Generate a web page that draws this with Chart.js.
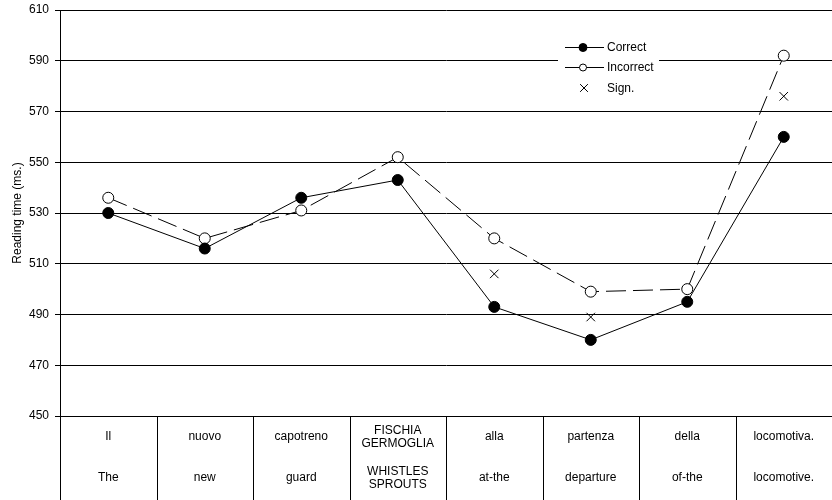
<!DOCTYPE html>
<html>
<head>
<meta charset="utf-8">
<script src="https://cdn.jsdelivr.net/npm/chart.js@4/dist/chart.umd.min.js"></script>
<style>
  html, body { margin: 0; padding: 0; background: #fff; }
  canvas { display: block; }
</style>
</head>
<body>
<canvas id="chart" width="832" height="500"></canvas>
<script>
// Sentence words, one column per region (Italian row, English gloss row)
const wordsItalian = ['Il', 'nuovo', 'capotreno', ['FISCHIA', 'GERMOGLIA'], 'alla', 'partenza', 'della', 'locomotiva.'];
const wordsEnglish = ['The', 'new', 'guard', ['WHISTLES', 'SPROUTS'], 'at-the', 'departure', 'of-the', 'locomotive.'];

// Mean reading times (ms.)
const correctTimes = [530, 516, 536, 543, 493, 480, 495, 560];
const incorrectTimes = [536, 520, 531, 552, 520, 499, 500, 592];
// Markers for significant differences
const significantTimes = [null, null, null, null, 506, 489, null, 576];

// Y axis range
const yMin = 450;
const yMax = 610;
const yStep = 20;

const FONT = "'Liberation Sans', Arial, sans-serif";
const FONT_SIZE = 12;
Chart.defaults.font.family = FONT;
Chart.defaults.font.size = FONT_SIZE;
Chart.defaults.color = '#000';

// Legend box drawn inside the plot, upper right
const legendPlugin = {
  id: 'innerLegend',
  afterDatasetsDraw(chart) {
    const ctx = chart.ctx;
    const ds = chart.data.datasets;
    ctx.save();
    ctx.fillStyle = '#fff';
    ctx.fillRect(558, 37, 101, 60);
    const rows = [
      { y: 47, d: ds[0], kind: 'filled' },
      { y: 67, d: ds[1], kind: 'open' },
      { y: 88, d: ds[2], kind: 'cross' }
    ];
    rows.forEach(r => {
      ctx.strokeStyle = '#000';
      ctx.lineWidth = 1;
      if (r.kind !== 'cross') {
        ctx.beginPath();
        ctx.moveTo(565, r.y + 0.5);
        ctx.lineTo(604, r.y + 0.5);
        ctx.stroke();
        ctx.beginPath();
        ctx.arc(583, r.y + 0.5, r.kind === 'filled' ? 4 : 3.5, 0, Math.PI * 2);
        ctx.fillStyle = r.d.pointBackgroundColor;
        ctx.fill();
        ctx.stroke();
      } else {
        Chart.helpers.drawPoint(ctx, { pointStyle: 'crossRot', radius: 5.5, borderWidth: 1 }, 584, r.y);
      }
      ctx.fillStyle = '#000';
      ctx.font = FONT_SIZE + 'px ' + FONT;
      ctx.textBaseline = 'middle';
      ctx.textAlign = 'left';
      ctx.fillText(r.d.label, 607, r.y + 1);
    });
    ctx.restore();
  }
};

// Word table under the plot: column rules and the two text rows
const tablePlugin = {
  id: 'wordTable',
  afterDraw(chart) {
    const ctx = chart.ctx;
    const xs = chart.scales.x;
    const area = chart.chartArea;
    const bottom = chart.height;
    ctx.save();
    ctx.strokeStyle = '#000';
    ctx.lineWidth = 1;
    ctx.beginPath();
    ctx.moveTo(Math.round(area.left) + 0.5, area.bottom);
    ctx.lineTo(Math.round(area.left) + 0.5, bottom);
    for (let i = 1; i < wordsItalian.length; i++) {
      const bx = Math.round((xs.getPixelForValue(i - 1) + xs.getPixelForValue(i)) / 2) + 0.5;
      ctx.moveTo(bx, area.bottom);
      ctx.lineTo(bx, bottom);
    }
    ctx.stroke();

    ctx.fillStyle = '#000';
    ctx.font = FONT_SIZE + 'px ' + FONT;
    ctx.textAlign = 'center';
    ctx.textBaseline = 'middle';
    const lineH = 12.5;
    const drawCell = (txt, cx, cy) => {
      const lines = Array.isArray(txt) ? txt : [txt];
      const y0 = cy - (lines.length - 1) * lineH / 2;
      lines.forEach((l, k) => ctx.fillText(l, cx, y0 + k * lineH));
    };
    wordsItalian.forEach((w, i) => drawCell(w, xs.getPixelForValue(i), 437));
    wordsEnglish.forEach((w, i) => drawCell(w, xs.getPixelForValue(i), 478));
    ctx.restore();
  }
};

new Chart(document.getElementById('chart'), {
  type: 'line',
  data: {
    labels: wordsEnglish.map(w => Array.isArray(w) ? w.join(' ') : w),
    datasets: [
      {
        label: 'Correct',
        data: correctTimes,
        borderColor: '#000',
        borderWidth: 1,
        pointRadius: 5.5,
        pointBackgroundColor: '#000',
        pointBorderColor: '#000',
        pointBorderWidth: 1,
        tension: 0
      },
      {
        label: 'Incorrect',
        data: incorrectTimes,
        borderColor: '#000',
        borderWidth: 1,
        borderDash: [20, 7],
        pointRadius: 5.5,
        pointBackgroundColor: '#fff',
        pointBorderColor: '#000',
        pointBorderWidth: 1,
        tension: 0
      },
      {
        label: 'Sign.',
        data: significantTimes,
        showLine: false,
        pointStyle: 'crossRot',
        pointRadius: 6,
        borderColor: '#000',
        pointBorderColor: '#000',
        pointBorderWidth: 1
      }
    ]
  },
  options: {
    responsive: false,
    animation: false,
    events: [],
    layout: { autoPadding: false, padding: { top: 10, bottom: 84, left: 0, right: 0 } },
    plugins: {
      legend: { display: false },
      tooltip: { enabled: false }
    },
    scales: {
      x: {
        type: 'category',
        offset: true,
        display: false
      },
      y: {
        min: yMin,
        max: yMax,
        afterFit(scale) {
          scale.width = 60;
          scale.paddingTop = 0;
          scale.paddingBottom = 0;
        },
        ticks: { stepSize: yStep, padding: 6, color: '#000', font: { size: FONT_SIZE } },
        grid: { color: '#000', lineWidth: 1, tickLength: 5, drawTicks: true },
        border: { display: true, color: '#000', width: 1 },
        title: {
          display: true,
          text: 'Reading time (ms.)',
          color: '#000',
          font: { size: FONT_SIZE },
          padding: { top: 10, bottom: 0 }
        }
      }
    }
  },
  plugins: [legendPlugin, tablePlugin]
});
</script>
</body>
</html>
